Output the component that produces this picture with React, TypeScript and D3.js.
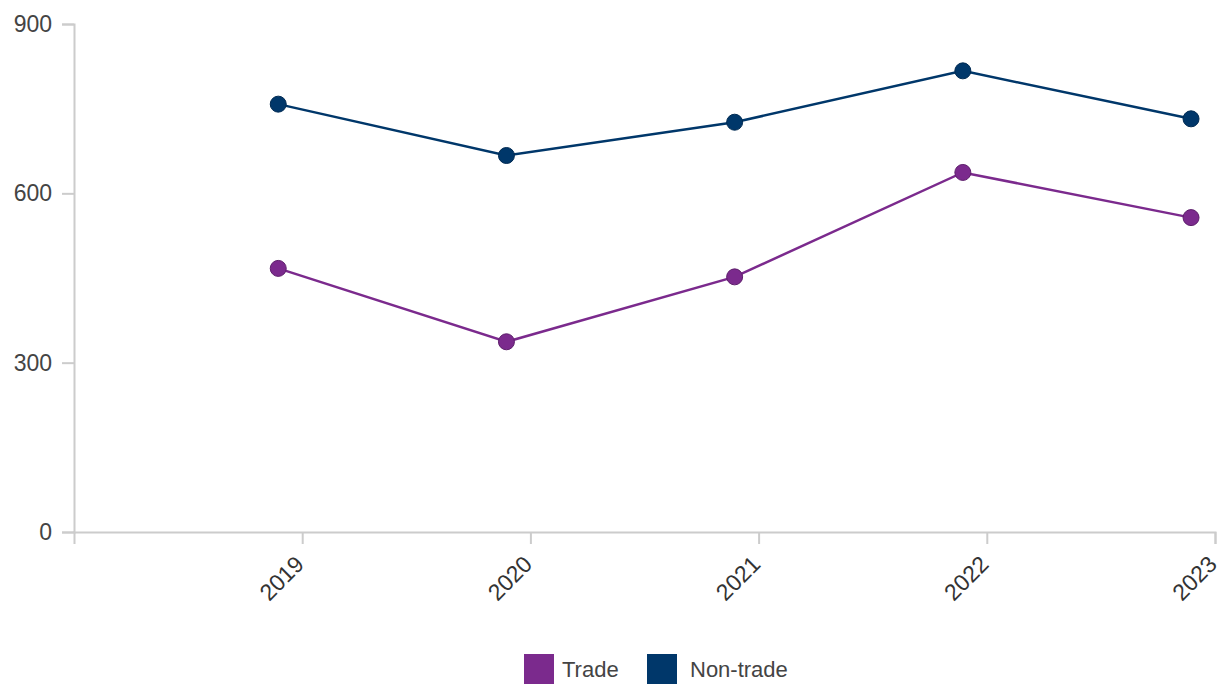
import * as d3 from "d3";
import { useRef, useEffect } from "react";

const years = [2019, 2020, 2021, 2022, 2023];
const trade = [467, 337, 452, 637, 557];
const nonTrade = [758, 667, 726, 817, 732];
const yTicks = [0, 300, 600, 900];

const seriesNames = ["Trade", "Non-trade"];
const seriesColors = ["#7b2a8d", "#00376a"];
const strokeColors = ["#5e1f6c", "#002a52"];

const width = 1222;
const height = 684;
const marginLeft = 74;
const marginRight = 7;
const marginTop = 24;
const marginBottom = 152;
// points sit a little before each year's tick
const pointOffset = 0.105;
const font = "'Liberation Sans', Arial, sans-serif";

export default function App() {
  const ref = useRef<SVGSVGElement | null>(null);

  useEffect(() => {
    const svg = d3.select(ref.current);
    svg.selectAll("*").remove();

    const x = d3.scaleLinear().domain([2018, 2023]).range([marginLeft, width - marginRight]);
    const y = d3.scaleLinear().domain([0, 900]).range([height - marginBottom, marginTop]);

    // y axis
    const ya = svg.append("g")
      .attr("transform", `translate(${marginLeft},0)`)
      .call(d3.axisLeft(y).tickValues(yTicks).tickSize(12).tickPadding(10).tickFormat(d3.format("d")));
    ya.select(".domain").attr("stroke", "#cccccc").attr("stroke-width", 2);
    ya.selectAll(".tick line").attr("stroke", "#cccccc").attr("stroke-width", 2);
    ya.selectAll(".tick text")
      .attr("fill", "#444")
      .style("font", `23px ${font}`);

    // x axis
    const xa = svg.append("g")
      .attr("transform", `translate(0,${height - marginBottom})`)
      .call(d3.axisBottom(x).tickValues(years).tickSize(12).tickSizeOuter(12).tickFormat(d3.format("d")));
    xa.select(".domain").attr("stroke", "#cccccc").attr("stroke-width", 2);
    xa.selectAll(".tick line").attr("stroke", "#cccccc").attr("stroke-width", 2);
    xa.selectAll(".tick text")
      .attr("fill", "#333")
      .attr("text-anchor", "end")
      .attr("y", 0)
      .attr("dy", "0.35em")
      .attr("transform", "translate(-3,28) rotate(-45)")
      .style("font", `23px ${font}`);

    const all = [trade, nonTrade];
    const line = d3.line<number>()
      .x((_, i) => x(years[i] - pointOffset))
      .y(d => y(d));

    all.forEach((vals, si) => {
      svg.append("path")
        .datum(vals)
        .attr("fill", "none")
        .attr("stroke", seriesColors[si])
        .attr("stroke-width", 2.5)
        .attr("d", line);
      svg.append("g")
        .selectAll("circle")
        .data(vals)
        .join("circle")
        .attr("cx", (_, i) => x(years[i] - pointOffset))
        .attr("cy", d => y(d))
        .attr("r", 8)
        .attr("fill", seriesColors[si])
        .attr("stroke", strokeColors[si])
        .attr("stroke-width", 1);
    });

    // legend
    const legend = svg.append("g").attr("transform", "translate(524,654)");
    const offsets = [0, 123];
    const textOffsets = [38, 43];
    seriesNames.forEach((name, i) => {
      const g = legend.append("g").attr("transform", `translate(${offsets[i]},0)`);
      g.append("rect").attr("width", 30).attr("height", 30).attr("fill", seriesColors[i]);
      g.append("text")
        .attr("x", textOffsets[i])
        .attr("y", 23)
        .attr("fill", "#444")
        .style("font", `22px ${font}`)
        .text(name);
    });
  }, []);

  return (
    <svg
      ref={ref}
      width={width}
      height={height}
      style={{ position: "absolute", left: 0, top: 0, background: "#fff" }}
    />
  );
}
